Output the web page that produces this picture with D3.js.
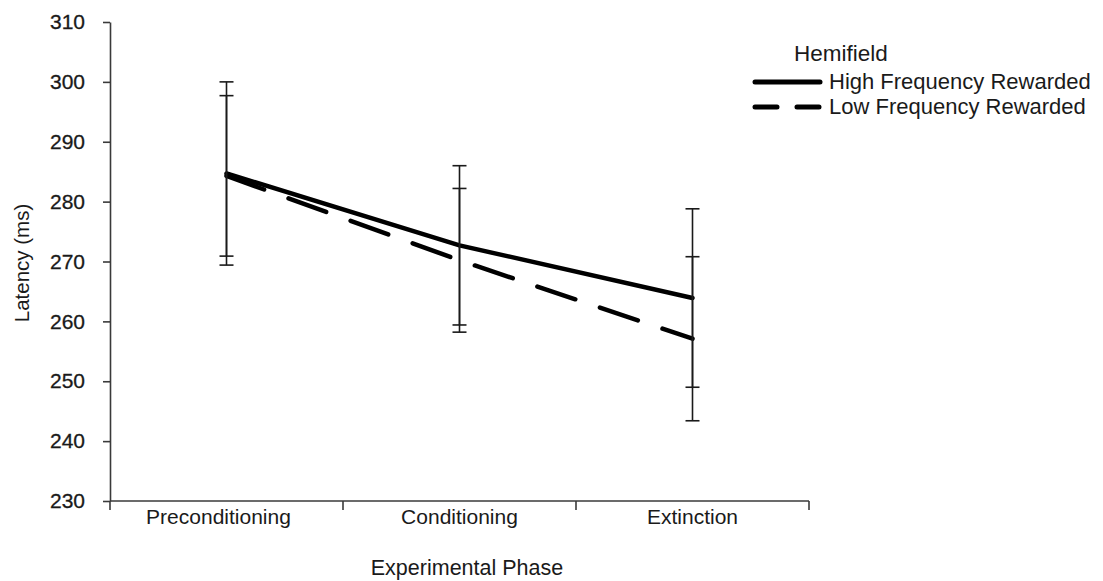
<!DOCTYPE html>
<html>
<head>
<meta charset="utf-8">
<script src="https://cdn.jsdelivr.net/npm/d3@7"></script>
<style>
  html, body { margin: 0; padding: 0; background: #fff; }
  svg { display: block; font-family: "Liberation Sans", Arial, sans-serif; }
</style>
</head>
<body>
<svg id="chart" width="1103" height="581"></svg>
<script>
// ---- data ----
const categories = ["Preconditioning", "Conditioning", "Extinction"];
const seriesNames = ["High Frequency Rewarded", "Low Frequency Rewarded"];
const highValues = [284.7, 272.7, 263.9];
const highErrors = [15.3, 13.3, 14.9];
const lowValues = [284.3, 270.2, 257.1];
const lowErrors = [13.4, 12.0, 13.7];
const yTicks = [230, 240, 250, 260, 270, 280, 290, 300, 310];
const yTitle = "Latency (ms)";
const xTitle = "Experimental Phase";
const legendTitle = "Hemifield";

const series = [
  { name: seriesNames[0], values: highValues, errors: highErrors, dash: null, legendDash: null },
  { name: seriesNames[1], values: lowValues, errors: lowErrors, dash: "40,26", legendDash: "22,20" }
];

const svg = d3.select("#chart");
const x = d3.scaleBand().domain(categories).range([110, 809]).padding(0);
const y = d3.scaleLinear().domain([230, 310]).range([501, 22]);
const cx = c => x(c) + x.bandwidth() / 2;

const textColor = "#1a1a1a";
const axisColor = "#3a3a3a";
const font = "'Liberation Sans', Arial, sans-serif";

// y axis
const yAxis = svg.append("g").attr("transform", "translate(110,0)")
  .call(d3.axisLeft(y).tickValues(yTicks).tickSize(7).tickSizeOuter(0).tickPadding(18));
yAxis.select(".domain").attr("stroke", axisColor).attr("stroke-width", 1.6);
yAxis.selectAll(".tick line").attr("stroke", axisColor).attr("stroke-width", 1.6);
yAxis.selectAll(".tick text").attr("font-size", 21).attr("fill", textColor)
  .attr("font-family", font).attr("stroke", textColor).attr("stroke-width", 0.3);

// x axis with ticks at band boundaries
const xAxisG = svg.append("g").attr("transform", "translate(0,501)");
xAxisG.append("line").attr("x1", 110).attr("x2", 809).attr("y1", 0).attr("y2", 0)
  .attr("stroke", axisColor).attr("stroke-width", 1.6);
const boundaries = categories.map(c => x(c)).concat([x(categories[categories.length - 1]) + x.bandwidth()]);
xAxisG.selectAll("line.tk").data(boundaries).enter().append("line").attr("class", "tk")
  .attr("x1", d => d).attr("x2", d => d).attr("y1", 0).attr("y2", 9)
  .attr("stroke", axisColor).attr("stroke-width", 1.6);
xAxisG.selectAll("text").data(categories).enter().append("text")
  .attr("x", d => cx(d) - 8 * (d === categories[0])).attr("y", 23).attr("text-anchor", "middle")
  .attr("font-size", 21).attr("fill", textColor).text(d => d);

// axis titles
svg.append("text").attr("x", 467).attr("y", 575).attr("text-anchor", "middle")
  .attr("font-size", 21.5).attr("fill", textColor).text(xTitle);
svg.append("text").attr("transform", "translate(29,263) rotate(-90)").attr("text-anchor", "middle")
  .attr("font-size", 20.5).attr("fill", textColor).text(yTitle);

// lines
const line = d3.line().x((d, i) => cx(categories[i])).y(d => y(d));
series.forEach(s => {
  svg.append("path").datum(s.values).attr("d", line)
    .attr("fill", "none").attr("stroke", "#000").attr("stroke-width", 4.5)
    .attr("stroke-linecap", "round").attr("stroke-linejoin", "round")
    .attr("stroke-dasharray", s.dash);
});

// error bars
series.forEach(s => {
  const g = svg.append("g");
  s.values.forEach((v, i) => {
    const xc = cx(categories[i]);
    const lo = y(v - s.errors[i]), hi = y(v + s.errors[i]);
    g.append("line").attr("x1", xc).attr("x2", xc).attr("y1", lo).attr("y2", hi)
      .attr("stroke", "#1a1a1a").attr("stroke-width", 1.6);
    [lo, hi].forEach(yy => g.append("line").attr("x1", xc - 7).attr("x2", xc + 7)
      .attr("y1", yy).attr("y2", yy).attr("stroke", "#1a1a1a").attr("stroke-width", 1.6));
  });
});

// legend
svg.append("text").attr("x", 794).attr("y", 61).attr("font-size", 22.5)
  .attr("fill", textColor).text(legendTitle);
series.forEach((s, i) => {
  const ly = 82 + i * 25;
  svg.append("line").attr("x1", 755).attr("x2", 820).attr("y1", ly).attr("y2", ly)
    .attr("stroke", "#000").attr("stroke-width", 5).attr("stroke-linecap", "round")
    .attr("stroke-dasharray", s.legendDash);
  svg.append("text").attr("x", 829).attr("y", ly + 7).attr("font-size", 22)
    .attr("fill", textColor).text(s.name);
});
</script>
</body>
</html>
